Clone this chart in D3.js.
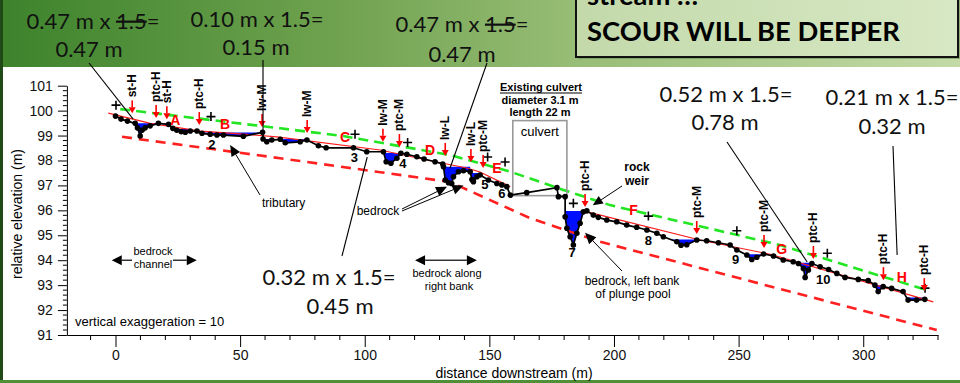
<!DOCTYPE html>
<html><head><meta charset="utf-8">
<script src="https://cdn.jsdelivr.net/npm/d3@7"></script>
<style>body{margin:0;background:#fff;overflow:hidden} svg{display:block}</style>
</head><body>
<svg id="c" width="960" height="383"></svg>
<script>
// ---------- DATA ----------
const profileDist = [0.0,2.2,4.8,7.9,8.8,9.9,10.7,11.9,13.9,17.2,21.3,23.0,24.6,26.4,28.0,30.0,32.7,34.7,38.0,40.7,43.3,51.3,59.0,59.2,60.7,62.7,66.1,68.1,74.1,76.8,81.4,84.5,95.5,100.8,107.5,108.6,110.5,112.9,114.5,116.9,120.9,123.8,128.2,131.3,131.6,132.3,133.6,134.9,135.6,137.6,139.6,142.3,143.0,143.6,145.0,146.3,149.6,153.0,155.0,157.0,158.4,165.0,177.1,177.7,180.4,180.4,181.1,182.4,183.7,185.1,186.4,187.7,189.1,191.7,193.7,197.1,201.1,205.1,209.1,213.2,217.2,219.8,225.2,226.9,229.2,233.2,237.2,241.9,246.6,249.3,253.3,255.3,257.3,260.0,264.0,267.9,271.9,274.0,276.0,276.7,278.0,279.4,282.7,286.1,289.4,292.7,298.0,302.0,304.7,306.0,308.0,311.4,316.0,318.0,321.4,324.7];
const profileElev = [99.78,99.66,99.58,99.49,99.31,98.98,99.22,99.31,99.39,99.49,99.45,99.29,99.21,99.15,99.13,99.18,99.18,99.09,99.05,99.02,99.02,98.97,99.13,98.86,98.75,98.82,98.85,98.71,98.75,98.82,98.59,98.51,98.51,98.35,98.35,97.95,97.89,98.09,98.29,98.25,98.15,98.06,97.95,97.86,97.75,97.22,97.11,97.08,97.35,97.55,97.59,97.55,97.24,97.15,97.35,97.42,97.22,97.08,97.02,96.95,96.61,96.71,96.91,96.55,96.55,95.74,95.28,94.94,94.61,95.08,95.48,95.94,95.98,95.81,95.72,95.61,95.54,95.41,95.32,95.21,95.08,94.94,94.74,94.60,94.62,94.81,94.78,94.70,94.61,94.41,94.21,94.03,94.12,94.25,94.17,94.01,93.94,93.87,93.67,93.31,93.61,93.87,93.74,93.63,93.47,93.31,93.23,93.18,93.00,92.74,92.94,92.87,92.74,92.40,92.40,92.43];

const poolStart = [7.5,21.5,34.0,59.2,107.5,131.5,142.5,180.4,221.0,252.5,274.5,304.5,317.5];
const poolEnd   = [18.0,30.0,58.5,77.0,114.5,142.3,146.5,189.0,233.0,260.0,279.5,308.0,326.0];
const poolLevel = [99.49,99.26,99.12,98.86,98.30,97.75,97.50,95.97,94.83,94.24,93.90,93.00,92.50];

const redFitDist = [-2.9,7.1,13.9,20.6,34.0,47.2,64.7,106.2,124.9,132.9,141.0,146.2,158.4,NaN,187.7,234.5,262.6,328.1];
const redFitElev = [99.90,99.66,99.49,99.39,99.18,99.09,98.95,98.42,98.02,97.86,97.70,97.54,96.95,NaN,95.98,94.81,94.24,92.33];

const greenDist = [1.9,66.1,91.3,134.2,158.4,179.7,198.4,266.6,325.5];
const greenElev = [100.06,99.29,98.98,98.22,97.55,96.82,96.21,94.61,92.80];

const redDashDist = [2.6,66.1,134.2,166.3,194.4,329.5];
const redDashElev = [98.95,98.09,97.14,95.69,94.74,91.20];

const crossDist = [0.2,38.3,96.1,117.2,149.3,156.3,183.7,213.8,249.3,285.6,324.8];
const crossElev = [100.22,99.76,99.05,98.72,98.14,97.94,96.28,95.77,95.18,94.28,92.88];

const arrowDist = [6.7,16.3,20.6,33.6,58.8,76.9,107.3,113.9,132.3,142.6,147.5,188.4,233.2,260.2,280.0,308.1,324.5];
const arrowTipElev = [99.89,99.70,99.65,99.42,99.34,99.10,98.75,98.54,98.18,97.94,97.70,96.13,95.05,94.49,94.05,93.20,92.76];
const arrowLabels = ["st-H","ptc-H","st-H","ptc-H","lw-M","lw-M","lw-M","ptc-M","lw-L","lw-L","ptc-M","ptc-H","ptc-M","ptc-M","ptc-H","ptc-H","ptc-H"];

const reachLabels = ["A","B","C","D","E","F","G","H"];
const reachDist = [24.0,44.0,92.1,126.2,153.0,207.8,267.3,315.5];
const reachElev = [99.62,99.45,98.95,98.42,97.69,96.01,94.44,93.34];

const poolLabels = ["2","3","4","5","6","7","8","9","10"];
const poolLabelDist = [38.7,95.8,115.3,148.2,155.0,183.2,213.8,248.8,284.0];
const poolLabelElev = [98.66,98.11,97.89,97.02,96.68,94.29,94.81,94.01,93.23];

const culvertDist = [159.4,181.1];
const culvertElev = [96.59,99.60];

const xMajorTicks = [0,50,100,150,200,250,300];
const yMajorTicks = [91,92,93,94,95,96,97,98,99,100,101];

// slide notes (depth x factor = result)
const noteDepth  = ["0.47","0.10","0.47","0.52","0.21","0.32"];
const noteFactor = ["1.5","1.5","1.5","1.5","1.5","1.5"];
const noteStrike = [true,false,true,false,false,false];
const noteResult = ["0.47","0.15","0.47","0.78","0.32","0.45"];
const leadEndDist = [7.1,59.2,134.2,277.5,313.6,101.0];
const leadEndElev = [99.66,98.80,97.69,93.93,94.21,98.14];

// ---------- SCALES ----------
const x = d3.scaleLinear().domain([-19.5,330]).range([66.9,938]);
const y = d3.scaleLinear().domain([91,101]).range([335,85.7]);
const F = "'Liberation Sans', Arial, sans-serif";

const svg = d3.select('#c');
const defs = svg.append('defs');
const g1 = defs.append('linearGradient').attr('id','bg');
[[0,'#3d832c'],[0.35,'#6fa24f'],[0.6,'#98bd76'],[1,'#c3daa7']].forEach(s=>g1.append('stop').attr('offset',s[0]).attr('stop-color',s[1]));
const g2 = defs.append('linearGradient').attr('id','bx');
[[0,'#c3d9aa'],[1,'#d7e8c4']].forEach(s=>g2.append('stop').attr('offset',s[0]).attr('stop-color',s[1]));

svg.append('rect').attr('width',960).attr('height',383).attr('fill','#fff');
svg.append('rect').attr('width',960).attr('height',67).attr('fill','url(#bg)');
svg.append('rect').attr('x',0).attr('y',0).attr('width',3).attr('height',383).attr('fill','#1f4a17');
svg.append('rect').attr('x',0).attr('y',380).attr('width',960).attr('height',3).attr('fill','#4f8f37');

// ---------- AXES ----------
const yAxis = svg.append('g').attr('transform',`translate(${x(-19.5)},0)`)
  .call(d3.axisLeft(y).tickValues(yMajorTicks).tickSize(9).tickSizeOuter(0).tickPadding(5).tickFormat(d3.format('d')));
yAxis.selectAll('text').attr('font-family',F).attr('font-size',14).attr('fill','#111');
yAxis.append('g').selectAll('line').data(d3.range(91,101.001,0.2).filter(v=>Math.abs(v-Math.round(v))>0.01))
  .join('line').attr('x1',-4).attr('x2',0).attr('y1',d=>y(d)).attr('y2',d=>y(d)).attr('stroke','#000');

const xAxis = svg.append('g').attr('transform',`translate(0,${y(91)})`)
  .call(d3.axisBottom(x).tickValues(xMajorTicks).tickSize(12).tickSizeOuter(0).tickPadding(3));
xAxis.selectAll('text').attr('font-family',F).attr('font-size',14).attr('fill','#111');
xAxis.append('g').selectAll('line').data(d3.range(-10,331,10).filter(v=>v%50!==0))
  .join('line').attr('x1',d=>x(d)).attr('x2',d=>x(d)).attr('y1',0).attr('y2',5).attr('stroke','#000');
svg.selectAll('.domain').attr('stroke','#000');

svg.append('text').attr('transform','translate(17,214) rotate(-90)').attr('text-anchor','middle')
  .attr('dominant-baseline','central').attr('font-family',F).attr('font-size',14).text('relative elevation (m)');
svg.append('text').attr('x',514).attr('y',378).attr('text-anchor','middle').attr('font-family',F).attr('font-size',14).text('distance downstream (m)');

// ---------- POOLS ----------
const prof = profileDist.map((d,i)=>({d, e:profileElev[i]}));
const abovePath = 'M' + prof.map(p=>`${x(p.d)},${y(p.e)}`).join('L') +
  `L${x(prof[prof.length-1].d)},${y(102)}L${x(prof[0].d)},${y(102)}Z`;
poolStart.forEach((s,i)=>{
  defs.append('clipPath').attr('id','pc'+i).append('rect')
    .attr('x',x(s)).attr('width',x(poolEnd[i])-x(s)).attr('y',y(poolLevel[i])).attr('height',y(90)-y(poolLevel[i]));
  svg.append('path').attr('d',abovePath).attr('fill','#0010ff').attr('clip-path',`url(#pc${i})`);
});

// ---------- LINES ----------
const ln = d3.line().defined(p=>!isNaN(p.d)).x(p=>x(p.d)).y(p=>y(p.e));
svg.append('path').attr('d',ln(redFitDist.map((d,i)=>({d,e:redFitElev[i]})))).attr('fill','none').attr('stroke','#ff1a1a').attr('stroke-width',1.2);
svg.append('path').attr('d',ln(greenDist.map((d,i)=>({d,e:greenElev[i]})))).attr('fill','none').attr('stroke','#22e622').attr('stroke-width',2.6).attr('stroke-dasharray','10,6');
svg.append('path').attr('d',ln(redDashDist.map((d,i)=>({d,e:redDashElev[i]})))).attr('fill','none').attr('stroke','#ff2020').attr('stroke-width',2.6).attr('stroke-dasharray','10,7');

// culvert
svg.append('rect').attr('x',x(culvertDist[0])).attr('y',y(culvertElev[1])).attr('width',x(culvertDist[1])-x(culvertDist[0]))
  .attr('height',y(culvertElev[0])-y(culvertElev[1])).attr('fill','none').attr('stroke','#999').attr('stroke-width',1.6);
svg.append('text').attr('x',(x(culvertDist[0])+x(culvertDist[1]))/2).attr('y',136).attr('text-anchor','middle').attr('font-family',F).attr('font-size',13).text('culvert');

// profile
svg.append('path').attr('d',ln(prof)).attr('fill','none').attr('stroke','#000').attr('stroke-width',1.7);
svg.append('g').selectAll('circle').data(prof).join('circle').attr('cx',p=>x(p.d)).attr('cy',p=>y(p.e)).attr('r',2.8).attr('fill','#000');

// crosses
svg.append('g').selectAll('path').data(crossDist.map((d,i)=>({d,e:crossElev[i]}))).join('path')
  .attr('d',p=>{const cx=x(p.d),cy=y(p.e);return `M${cx-4.5},${cy}H${cx+4.5}M${cx},${cy-4.5}V${cy+4.5}`;})
  .attr('stroke','#000').attr('stroke-width',1.6);

// ---------- ARROWS ----------
function arrow(g,x1,y1,x2,y2,hl,hw,color,w){
  const a=Math.atan2(y2-y1,x2-x1), bx=x2-hl*Math.cos(a), by=y2-hl*Math.sin(a);
  g.append('line').attr('x1',x1).attr('y1',y1).attr('x2',bx).attr('y2',by).attr('stroke',color).attr('stroke-width',w);
  const px=-Math.sin(a)*hw/2, py=Math.cos(a)*hw/2;
  g.append('path').attr('d',`M${x2},${y2}L${bx+px},${by+py}L${bx-px},${by-py}Z`).attr('fill',color);
}
const ag = svg.append('g');
arrowDist.forEach((d,i)=>{
  const xx=x(d), ty=y(arrowTipElev[i]);
  arrow(ag,xx,ty-13,xx,ty,6,7,'#ff0000',1.6);
  ag.append('text').attr('transform',`translate(${xx},${ty-16}) rotate(-90)`).attr('dominant-baseline','central')
    .attr('font-family',F).attr('font-weight','bold').attr('font-size',12).text(arrowLabels[i]);
});

// reach letters
svg.append('g').selectAll('text').data(reachLabels).join('text')
  .attr('x',(d,i)=>x(reachDist[i])).attr('y',(d,i)=>y(reachElev[i])).attr('text-anchor','middle').attr('dominant-baseline','central')
  .attr('font-family',F).attr('font-weight','bold').attr('font-size',14).attr('fill','#ff0000').text(d=>d);
// pool numbers
svg.append('g').selectAll('text').data(poolLabels).join('text')
  .attr('x',(d,i)=>x(poolLabelDist[i])).attr('y',(d,i)=>y(poolLabelElev[i])).attr('text-anchor','middle').attr('dominant-baseline','central')
  .attr('font-family',F).attr('font-weight','bold').attr('font-size',13).text(d=>d);

// ---------- ANNOTATIONS ----------
const an = svg.append('g').attr('font-family',F);
function txt(t,xx,yy,size,opt={}){
  const e=an.append('text').attr('x',xx).attr('y',yy).attr('font-size',size).attr('text-anchor',opt.anchor||'middle').text(t);
  if(opt.bold) e.attr('font-weight','bold');
  return e;
}
// culvert header
txt('Existing culvert',541,91,11,{bold:true});
an.append('line').attr('x1',500).attr('x2',582).attr('y1',93).attr('y2',93).attr('stroke','#000').attr('stroke-width',1);
txt('diameter 3.1 m',540,104,11,{bold:true});
txt('length 22 m',540,116,11,{bold:true});
// rock weir
txt('rock',637,171,12,{bold:true}); txt('weir',637,185,12,{bold:true});
arrow(an,622,186,x(191.5),y(96.2),10,9,'#000',1);
// tributary
txt('tributary',262,207,12,{anchor:'start'});
arrow(an,260,195,x(46.0),y(98.62),11,10,'#000',1);
// bedrock (two arrows)
txt('bedrock',378,215,12);
arrow(an,402,209,x(133.0),y(96.95),11,10,'#000',1);
arrow(an,402,211,x(139.6),y(97.0),11,10,'#000',1);
// bedrock left bank
txt('bedrock, left bank',632,285,12); txt('of plunge pool',633,298,12);
arrow(an,622,271,x(188.4),y(95.1),11,10,'#000',1);
// bedrock channel
txt('bedrock',153,255,11); txt('channel',153,268,11);
arrow(an,132,y(94),x(-1.5),y(94),10,10,'#000',1.2);
arrow(an,173,y(94),x(32.6),y(94),10,10,'#000',1.2);
// bedrock along right bank
arrow(an,446,y(94),x(120.2),y(94),10,10,'#000',1.2);
arrow(an,446,y(94),x(145.0),y(94),10,10,'#000',1.2);
txt('bedrock along',447,277,11); txt('right bank',449,290,11);
txt('vertical exaggeration = 10',75,326,13,{anchor:'start'});

// ---------- SLIDE NOTES ----------
const NF = "Lato, 'Open Sans', sans-serif";
const noteX1=[93,257,462,726,892,329], noteY1=[29,27,32,102,105,285];
const noteX2=[89,256,462,725,892,340], noteY2=[57,55,62,130,134,314];
const leadX=[89,263,487,727,893,342], leadY=[63,60,63,142,146,256];
const ng = svg.append('g').attr('font-family',NF).attr('font-size',22).attr('fill','#111');
noteDepth.forEach((dep,i)=>{
  const t=ng.append('text').attr('x',noteX1[i]).attr('y',noteY1[i]).attr('text-anchor','middle');
  t.append('tspan').text(dep+' m x ');
  const f=t.append('tspan').text(noteFactor[i]);
  if(noteStrike[i]) f.attr('text-decoration','line-through');
  t.append('tspan').text('=');
  ng.append('text').attr('x',noteX2[i]).attr('y',noteY2[i]).attr('text-anchor','middle').text(noteResult[i]+' m');
  svg.append('line').attr('x1',leadX[i]).attr('y1',leadY[i]).attr('x2',x(leadEndDist[i])).attr('y2',y(leadEndElev[i])).attr('stroke','#000').attr('stroke-width',1.1);
});

// box
svg.append('rect').attr('x',578).attr('y',-4).attr('width',382).attr('height',63).attr('fill','#6e8f5a').attr('opacity',0.6);
svg.append('rect').attr('x',576).attr('y',-4).attr('width',382).attr('height',61).attr('fill','url(#bx)').attr('stroke','#111').attr('stroke-width',2);
const s1 = svg.append('text').attr('x',587).attr('y',5).attr('font-family',NF).attr('font-weight','bold').attr('font-size',26).text('stream …');
const s2 = svg.append('text').attr('x',587).attr('y',41).attr('font-family',NF).attr('font-weight','bold').attr('font-size',26).text('SCOUR WILL BE DEEPER');
const w2 = s2.node().getComputedTextLength();
s2.attr('font-size',26*313/w2); s1.attr('font-size',26*313/w2);
</script>
</body></html>
